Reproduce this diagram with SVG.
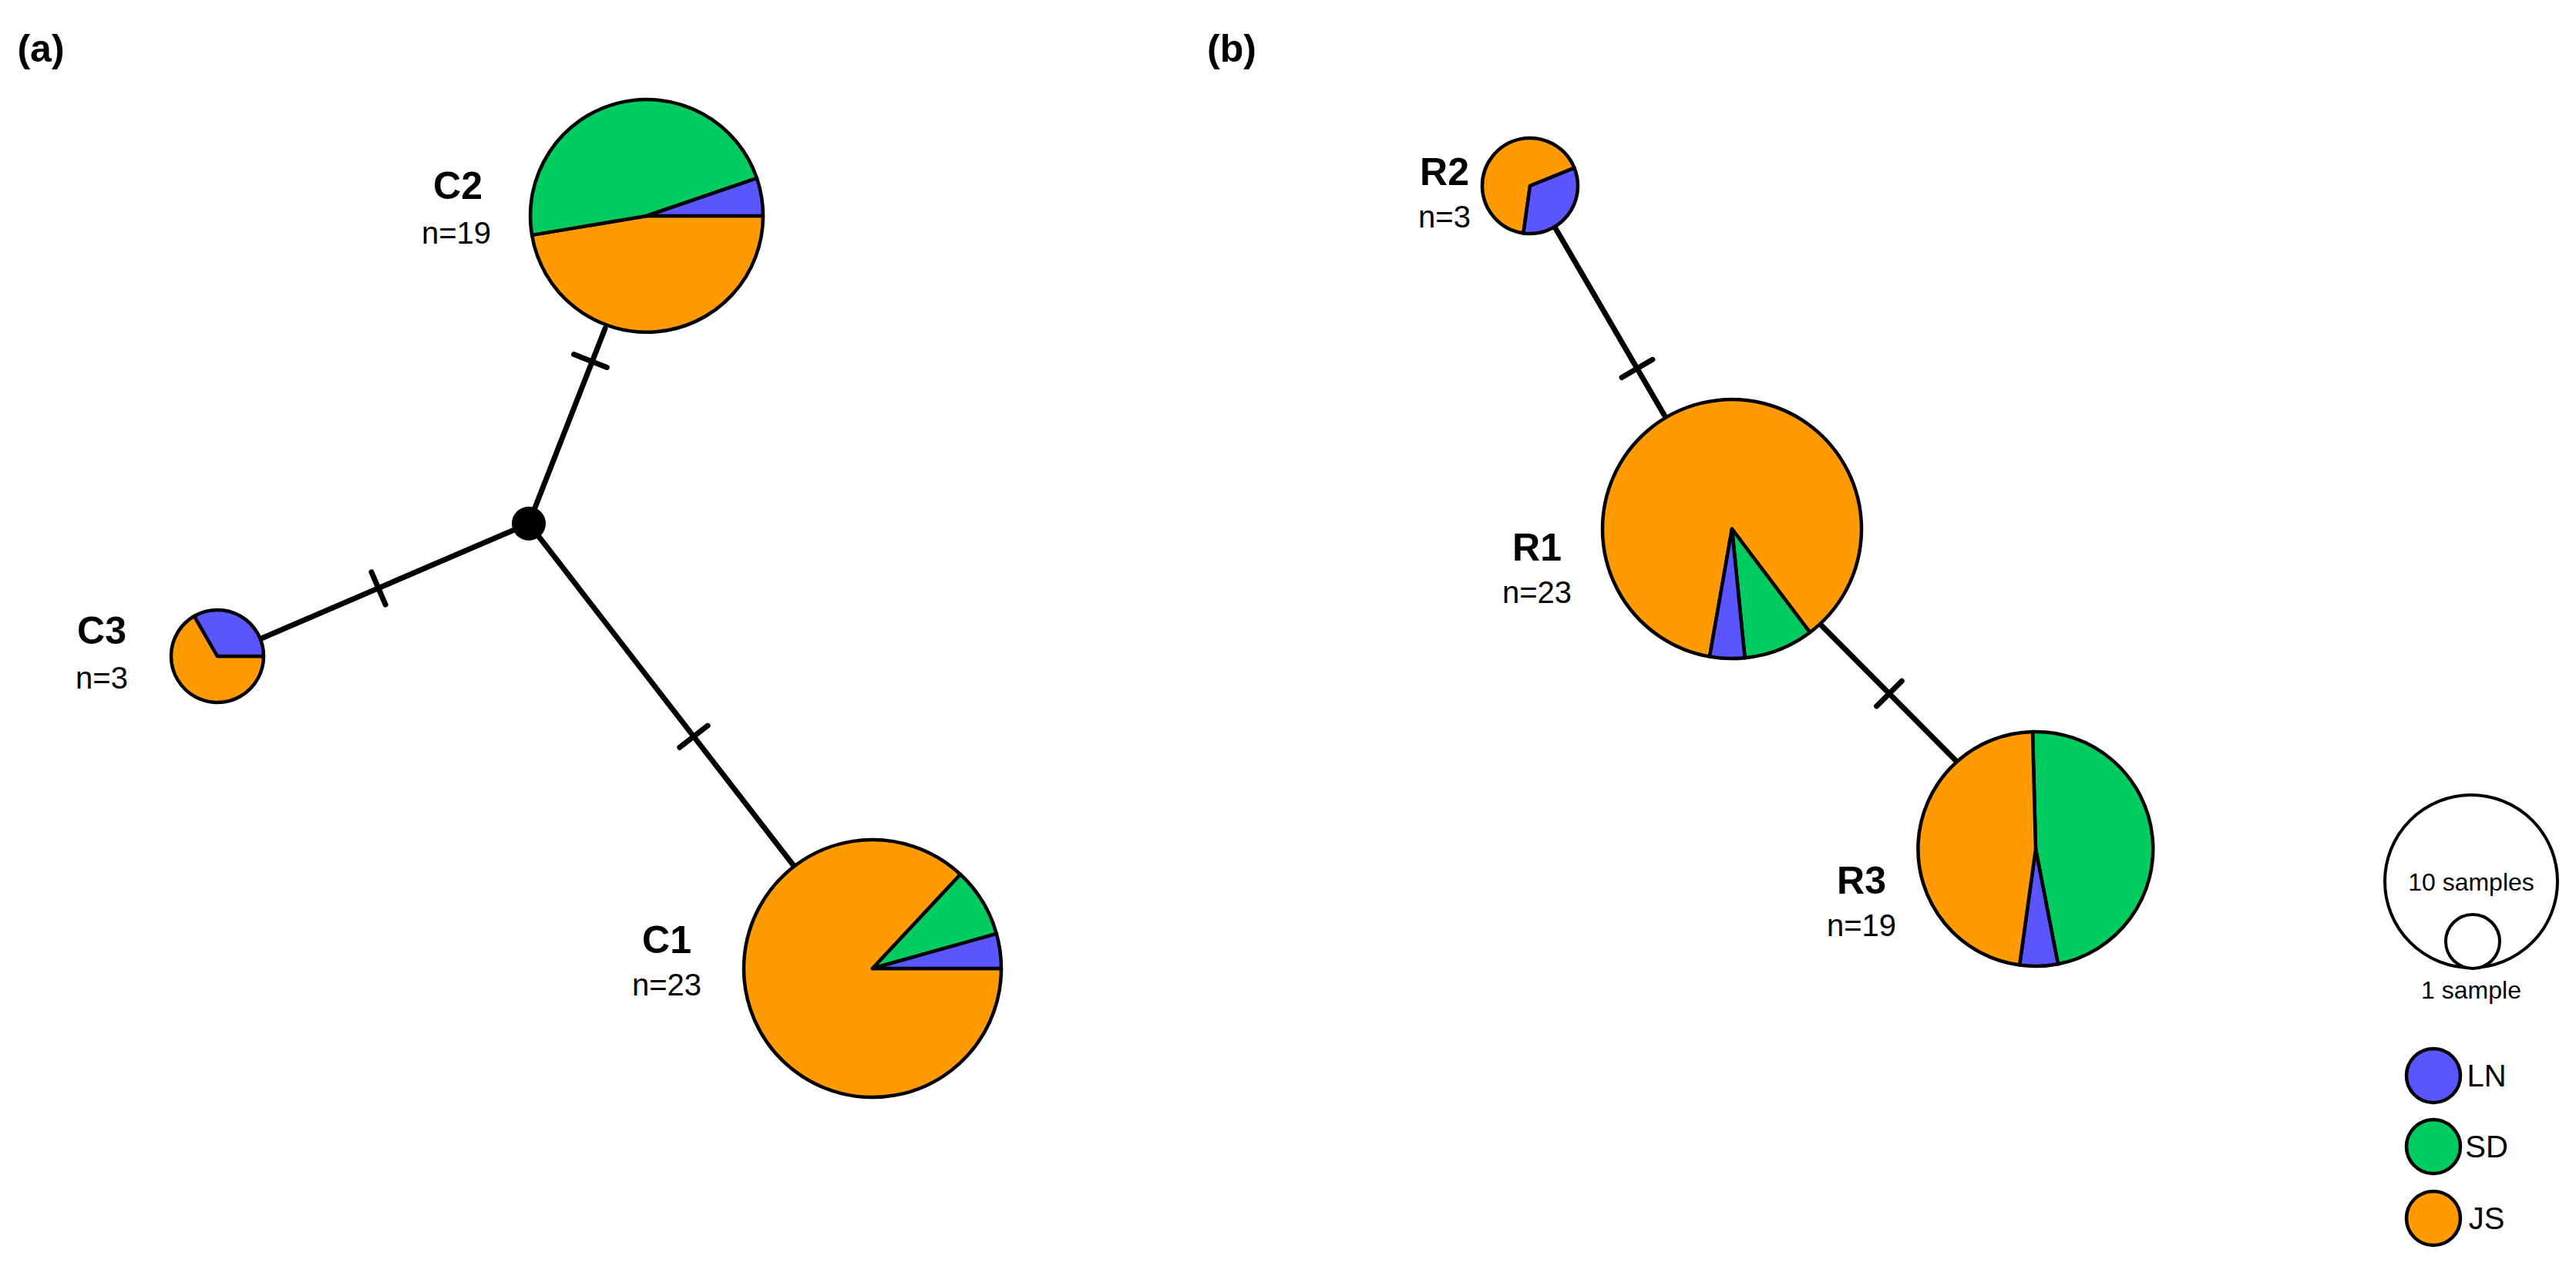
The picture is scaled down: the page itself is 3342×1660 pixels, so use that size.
<svg xmlns="http://www.w3.org/2000/svg" width="3342" height="1660" viewBox="0 0 3342 1660">
<style>
.e{stroke:#000;stroke-width:7;stroke-linecap:round;fill:none}
.p{stroke:#000;stroke-width:4.5;stroke-linejoin:round}
.ln{fill:#5a55ff}.sd{fill:#00cc60}.js{fill:#ff9a00}
.t{font-family:"Liberation Sans",Arial,sans-serif;fill:#000;text-anchor:middle}
.b{font-weight:bold;font-size:50px}
.n{font-size:40px}
</style>
<rect width="3342" height="1660" fill="#fff"/>
<text class="t b" x="53" y="80">(a)</text>
<text class="t b" x="1598" y="80">(b)</text>
<g id="connectors">
<line class="e" x1="686" y1="679" x2="785" y2="426"/>
<line class="e" x1="744.6" y1="459.6" x2="787.4" y2="476.4"/>
<line class="e" x1="686" y1="679" x2="339" y2="828"/>
<line class="e" x1="481.9" y1="741.9" x2="500.1" y2="784.1"/>
<line class="e" x1="686" y1="679" x2="1030" y2="1123"/>
<line class="e" x1="881.8" y1="969.3" x2="918.2" y2="941.1"/>
<line class="e" x1="2018" y1="296" x2="2159" y2="538"/>
<line class="e" x1="2104.1" y1="489.5" x2="2143.9" y2="466.3"/>
<line class="e" x1="2362" y1="810" x2="2537" y2="986"/>
<line class="e" x1="2434.7" y1="915.7" x2="2467.3" y2="883.3"/>
</g>
<g id="junction"><circle cx="686" cy="679" r="22" fill="#000"/></g>
<g id="C2">
<path class="p js" d="M839 280 L990 280 A151 151 0 0 1 690.1 304.9 Z"/>
<path class="p sd" d="M839 280 L690.1 304.9 A151 151 0 0 1 981.9 231.1 Z"/>
<path class="p ln" d="M839 280 L981.9 231.1 A151 151 0 0 1 990 280 Z"/>
<text class="t b" x="594" y="258">C2</text>
<text class="t n" x="592" y="316">n=19</text>
</g>
<g id="C3">
<path class="p js" d="M282 851 L342 851 A60 60 0 1 1 252 799 Z"/>
<path class="p ln" d="M282 851 L252 799 A60 60 0 0 1 342 851 Z"/>
<text class="t b" x="132" y="835">C3</text>
<text class="t n" x="132" y="893">n=3</text>
</g>
<g id="C1">
<path class="p js" d="M1132 1256 L1299 1256 A167 167 0 1 1 1246 1134 Z"/>
<path class="p sd" d="M1132 1256 L1246 1134 A167 167 0 0 1 1292.8 1210.9 Z"/>
<path class="p ln" d="M1132 1256 L1292.8 1210.9 A167 167 0 0 1 1299 1256 Z"/>
<text class="t b" x="865" y="1236">C1</text>
<text class="t n" x="865" y="1291">n=23</text>
</g>
<g id="R2">
<path class="p js" d="M1985 241 L1976.4 302.4 A62 62 0 1 1 2042.5 217.8 Z"/>
<path class="p ln" d="M1985 241 L2042.5 217.8 A62 62 0 0 1 1976.4 302.4 Z"/>
<text class="t b" x="1874" y="240">R2</text>
<text class="t n" x="1874" y="295">n=3</text>
</g>
<g id="R1">
<path class="p js" d="M2247 686 L2218 851.5 A168 168 0 1 1 2348.1 820.2 Z"/>
<path class="p sd" d="M2247 686 L2348.1 820.2 A168 168 0 0 1 2263.7 853.2 Z"/>
<path class="p ln" d="M2247 686 L2263.7 853.2 A168 168 0 0 1 2218 851.5 Z"/>
<text class="t b" x="1994" y="727">R1</text>
<text class="t n" x="1994" y="782">n=23</text>
</g>
<g id="R3">
<path class="p sd" d="M2641 1101 L2637 949 A152 152 0 0 1 2670 1250.2 Z"/>
<path class="p ln" d="M2641 1101 L2670 1250.2 A152 152 0 0 1 2620.1 1251.6 Z"/>
<path class="p js" d="M2641 1101 L2620.1 1251.6 A152 152 0 0 1 2637 949 Z"/>
<text class="t b" x="2415" y="1159">R3</text>
<text class="t n" x="2415" y="1214">n=19</text>
</g>
<g id="legend">
<circle cx="3206" cy="1143" r="112" fill="#fff" stroke="#000" stroke-width="4"/>
<circle cx="3208" cy="1221" r="35" fill="#fff" stroke="#000" stroke-width="4"/>
<text class="t" x="3206" y="1155" font-size="32">10 samples</text>
<text class="t" x="3206" y="1295" font-size="32">1 sample</text>
<circle class="p ln" cx="3157" cy="1395" r="35"/>
<circle class="p sd" cx="3157" cy="1487" r="35"/>
<circle class="p js" cx="3157" cy="1580" r="35"/>
<text class="t" x="3226" y="1409" font-size="40" text-anchor="start">LN</text>
<text class="t" x="3226" y="1501" font-size="40" text-anchor="start">SD</text>
<text class="t" x="3226" y="1594" font-size="40" text-anchor="start">JS</text>
</g>
</svg>
